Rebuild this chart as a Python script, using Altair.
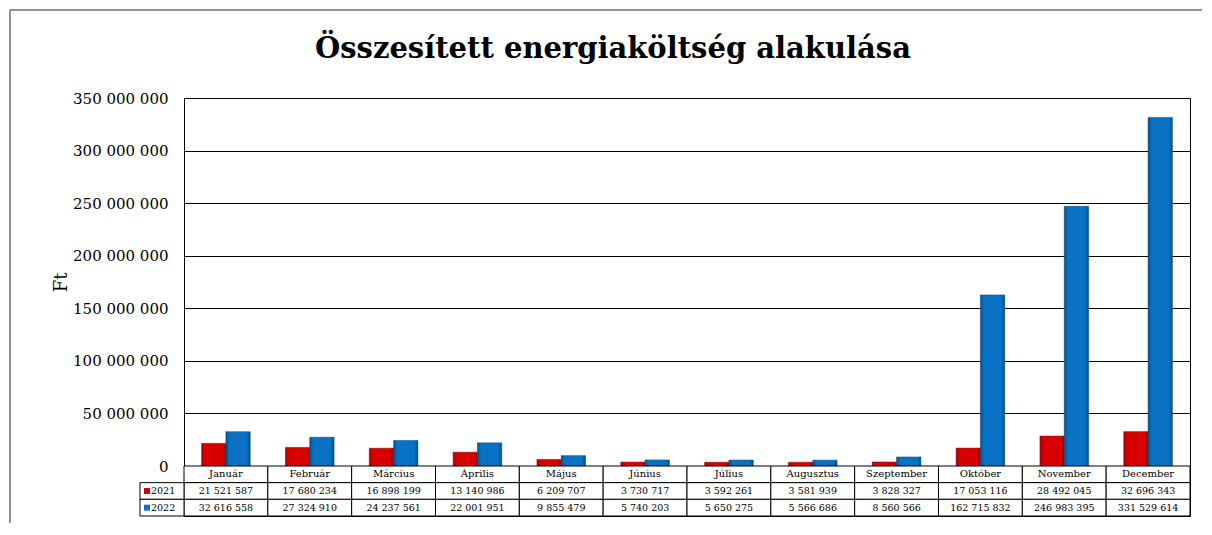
import altair as alt
import pandas as pd

months = ["Január", "Február", "Március", "Április", "Május", "Június",
          "Július", "Augusztus", "Szeptember", "Október", "November", "December"]
years = ["2021", "2022"]
v2021 = [21521587, 17680234, 16898199, 13140986, 6209707, 3730717,
         3592261, 3581939, 3828327, 17053116, 28492045, 32696343]
v2022 = [32616558, 27324910, 24237561, 22001951, 9855479, 5740203,
         5650275, 5566686, 8560566, 162715832, 246983395, 331529614]
y_ticks = [0, 50000000, 100000000, 150000000, 200000000, 250000000, 300000000, 350000000]

FONT = "DejaVu Serif"
W, H, TH = 1006, 368, 50

rows = []
for m, a, b in zip(months, v2021, v2022):
    rows.append({"month": m, "year": "2021", "value": a})
    rows.append({"month": m, "year": "2022", "value": b})
bars_df = pd.DataFrame(rows)

def fmt(v):
    return f"{v:,}".replace(",", " ")

trows = []
for m, a, b in zip(months, v2021, v2022):
    trows.append({"month": m, "row": "h", "label": m, "kind": "head"})
    trows.append({"month": m, "row": "2021", "label": fmt(a), "kind": "num"})
    trows.append({"month": m, "row": "2022", "label": fmt(b), "kind": "num"})
table_df = pd.DataFrame(trows)
leg_df = pd.DataFrame({"row": years})

red_grad = alt.Gradient(gradient="linear", x1=0, x2=1, y1=0, y2=0, stops=[
    alt.GradientStop(color="#a80000", offset=0),
    alt.GradientStop(color="#d80000", offset=0.15),
    alt.GradientStop(color="#d80000", offset=0.85),
    alt.GradientStop(color="#9a0000", offset=1)])
blue_grad = alt.Gradient(gradient="linear", x1=0, x2=1, y1=0, y2=0, stops=[
    alt.GradientStop(color="#00528f", offset=0),
    alt.GradientStop(color="#0a72c4", offset=0.15),
    alt.GradientStop(color="#0a72c4", offset=0.85),
    alt.GradientStop(color="#004f8a", offset=1)])

base = alt.Chart(bars_df).encode(
    x=alt.X("month:N", sort=months,
            scale=alt.Scale(domain=months, paddingInner=0.42, paddingOuter=0.21),
            axis=None),
    xOffset=alt.XOffset("year:N", scale=alt.Scale(domain=years, paddingInner=0, paddingOuter=0)),
    y=alt.Y("value:Q",
            scale=alt.Scale(domain=[0, 350000000], nice=False),
            axis=alt.Axis(values=y_ticks, title="Ft", grid=True, gridColor="black",
                          gridWidth=1, gridOpacity=1, domain=False, ticks=False,
                          labelPadding=16, labelFont=FONT, labelFontSize=15,
                          labelColor="black",
                          labelExpr="replace(format(datum.value, ','), regexp(',', 'g'), ' ')",
                          titleFont=FONT, titleFontSize=18, titleFontWeight="normal",
                          titleColor="black", titlePadding=2)),
)
red = base.transform_filter(alt.datum.year == "2021").mark_bar(
    fill=red_grad, stroke="#8a0000", strokeWidth=0.5)
blue = base.transform_filter(alt.datum.year == "2022").mark_bar(
    fill=blue_grad, stroke="#003f70", strokeWidth=0.5)

dummy = pd.DataFrame({"k": [0]})
frame_left = alt.Chart(dummy).mark_rule(color="#6f6f6f", strokeWidth=1.5).encode(
    x=alt.value(-174), y=alt.value(-88), y2=alt.value(425))
frame_top = alt.Chart(dummy).mark_rule(color="#6f6f6f", strokeWidth=1.5).encode(
    x=alt.value(-174), x2=alt.value(1018), y=alt.value(-88))

top = alt.layer(frame_left, frame_top, red, blue).properties(width=W, height=H)

row_scale = alt.Scale(domain=["h", "2021", "2022"], paddingInner=0, paddingOuter=0)
tbase = alt.Chart(table_df).encode(
    x=alt.X("month:N", sort=months,
            scale=alt.Scale(domain=months, paddingInner=0, paddingOuter=0), axis=None),
    y=alt.Y("row:N", scale=row_scale, axis=None),
)
cells = tbase.mark_rect(fill="white", stroke="black", strokeWidth=1)
head_txt = tbase.transform_filter(alt.datum.kind == "head").mark_text(
    font=FONT, fontSize=10, color="black").encode(text="label:N")
num_txt = tbase.transform_filter(alt.datum.kind == "num").mark_text(
    font=FONT, fontSize=9.5, color="black").encode(text="label:N")

lbase = alt.Chart(leg_df).encode(y=alt.Y("row:N", scale=row_scale, axis=None))
leg_cells = lbase.mark_rect(fill="white", stroke="black", strokeWidth=1).encode(
    x=alt.value(-44), x2=alt.value(0))
leg_sq = lbase.mark_square(size=36, opacity=1).encode(
    x=alt.value(-37),
    fill=alt.Fill("row:N", scale=alt.Scale(domain=years, range=["#d00000", "#0a72c4"]),
                  legend=None))
leg_txt = lbase.mark_text(font=FONT, fontSize=9.5, color="black", align="left").encode(
    x=alt.value(-33), text="row:N")

table = alt.layer(cells, head_txt, num_txt, leg_cells, leg_sq, leg_txt).properties(
    width=W, height=TH)

chart = alt.vconcat(top, table, spacing=0, bounds="flush").properties(
    padding=0,
    title=alt.TitleParams("Összesített energiaköltség alakulása", font=FONT,
                          fontSize=29, fontWeight="bold", color="black",
                          anchor="middle", offset=-55, dx=7),
).configure_view(stroke="black", strokeWidth=1).resolve_scale(x="independent")

chart.save("out.html", embed_options={"renderer": "svg", "actions": False})
